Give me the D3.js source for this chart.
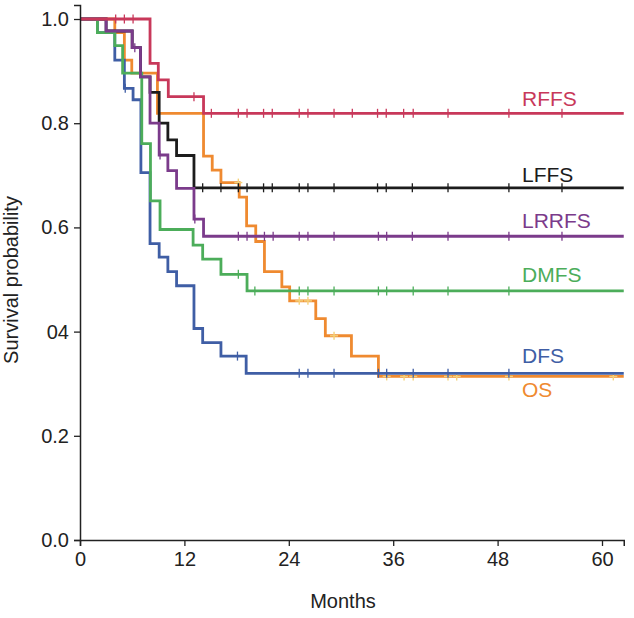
<!DOCTYPE html>
<html>
<head>
<meta charset="utf-8">
<script src="https://cdn.jsdelivr.net/npm/d3@7"></script>
<style>
  html, body { margin: 0; padding: 0; background: #fff; }
  svg text { font-family: "Liberation Sans", Arial, sans-serif; }
</style>
</head>
<body>
<svg id="chart" width="634" height="618"></svg>
<script>
// ---- tick labels ----
const monthTicks = [0, 12, 24, 36, 48, 60];
const survTicks = [0, 0.2, 0.4, 0.6, 0.8, 1.0];
const survTickLabels = ["0.0", "0.2", "04", "0.6", "0.8", "1.0"];

// ---- series (step times in months, survival after each step) ----
// drawing order (bottom to top)
const seriesNames = ["OS", "LFFS", "DFS", "DMFS", "LRRFS", "RFFS"];

const osTimes = [0, 4.0, 5.1, 5.95, 8.9, 14.2, 15.2, 16.2, 18.3, 19.15, 20.2, 21.2, 23.2, 24.1, 27.1, 28.2, 31.2, 34.3];
const osSurv  = [1, 0.974, 0.921, 0.896, 0.819, 0.737, 0.71, 0.686, 0.658, 0.603, 0.573, 0.515, 0.486, 0.459, 0.425, 0.392, 0.353, 0.314];
const osCensor = [18.2, 25.2, 26.2, 29.2, 35.25, 37.25, 38.3, 42.3, 43.3, 49.3, 61.3];

const dmfsTimes = [0, 2.0, 4.0, 4.9, 7.1, 8.1, 9.2, 13.0, 14.1, 16.2, 19.2];
const dmfsSurv  = [1, 0.974, 0.949, 0.896, 0.761, 0.651, 0.596, 0.566, 0.539, 0.51, 0.478];
const dmfsCensor = [18.2, 20.1, 25.2, 26.2, 29.2, 34.3, 35.25, 38.3, 42.3, 49.3];

const dfsTimes = [0, 2.0, 4.0, 5.1, 6.1, 7.0, 8.05, 9.1, 10.1, 11.1, 13.1, 14.1, 16.2, 19.1];
const dfsSurv  = [1, 0.974, 0.921, 0.867, 0.845, 0.705, 0.569, 0.543, 0.515, 0.488, 0.406, 0.379, 0.353, 0.32];
const dfsCensor = [5.2, 18.1, 25.2, 26.2, 29.2, 34.3, 35.25, 38.3, 42.3, 49.3];

const lrrfsTimes = [0, 3.0, 6.0, 6.95, 8.05, 9.1, 10.1, 11.1, 13.1, 14.2];
const lrrfsSurv  = [1, 0.977, 0.945, 0.889, 0.80, 0.739, 0.709, 0.675, 0.616, 0.583];
const lrrfsCensor = [6.3, 9.2, 13.2, 18.2, 19.2, 21.2, 22.2, 25.2, 26.2, 29.2, 34.3, 35.25, 38.2, 42.3, 49.3, 55.4];

const lffsTimes = [0, 3.0, 6.0, 6.95, 8.05, 9.1, 10.1, 11.1, 13.1];
const lffsSurv  = [1, 0.977, 0.945, 0.889, 0.859, 0.80, 0.768, 0.738, 0.676];
const lffsCensor = [14.1, 16.2, 18.2, 19.2, 21.1, 22.1, 25.2, 26.2, 29.2, 34.2, 35.2, 38.2, 42.3, 49.3, 55.4];

const rffsTimes = [0, 8.05, 9.0, 10.15, 14.2];
const rffsSurv  = [1, 0.915, 0.883, 0.851, 0.819];
const rffsCensor = [4.1, 5.1, 6.1, 13.1, 15.1, 18.2, 19.2, 21.1, 22.1, 25.2, 26.2, 29.2, 31.3, 34.2, 35.2, 37.2, 38.3, 42.3, 49.3, 55.4];

const endMonth = 62.5;

// ---- styling ----
const colors = {
  OS: "#ef8a30", DMFS: "#4cad5a", DFS: "#3f5ea5",
  LRRFS: "#7b3b8b", LFFS: "#1c1c1c", RFFS: "#c8385a"
};
const labelPos = {
  RFFS: 106, LFFS: 181.7, LRRFS: 228.3, DMFS: 281.7, DFS: 363.3, OS: 397
};

const data = {
  OS: {t: osTimes, s: osSurv, c: osCensor},
  DMFS: {t: dmfsTimes, s: dmfsSurv, c: dmfsCensor},
  DFS: {t: dfsTimes, s: dfsSurv, c: dfsCensor},
  LRRFS: {t: lrrfsTimes, s: lrrfsSurv, c: lrrfsCensor},
  LFFS: {t: lffsTimes, s: lffsSurv, c: lffsCensor},
  RFFS: {t: rffsTimes, s: rffsSurv, c: rffsCensor}
};

const svg = d3.select("#chart");
const x = d3.scaleLinear().domain([0, endMonth]).range([80, 623.75]);
const y = d3.scaleLinear().domain([0, 1.0269]).range([540, 5]);

function survAt(d, m) {
  let v = d.s[0];
  for (let i = 0; i < d.t.length; i++) { if (d.t[i] <= m) v = d.s[i]; }
  return v;
}

const line = d3.line().x(p => x(p[0])).y(p => y(p[1])).curve(d3.curveStepAfter);

seriesNames.forEach(name => {
  const d = data[name];
  const pts = d.t.map((t, i) => [t, d.s[i]]);
  pts.push([endMonth, d.s[d.s.length - 1]]);
  svg.append("path")
    .attr("d", line(pts))
    .attr("fill", "none")
    .attr("stroke", colors[name])
    .attr("stroke-width", 2.8);

  const g = svg.append("g");
  d.c.forEach(m => {
    const cx = x(m), cy = y(survAt(d, m));
    if (name === "OS") {
      g.append("line").attr("x1", cx).attr("x2", cx).attr("y1", cy - 4).attr("y2", cy + 4)
        .attr("stroke", "#f5d27a").attr("stroke-width", 1.4);
      g.append("line").attr("x1", cx - 4).attr("x2", cx + 4).attr("y1", cy).attr("y2", cy)
        .attr("stroke", "#f5d27a").attr("stroke-width", 1.4);
    } else {
      g.append("line").attr("x1", cx).attr("x2", cx).attr("y1", cy - 4.5).attr("y2", cy + 4.5)
        .attr("stroke", colors[name]).attr("stroke-width", 1.3);
    }
  });

  svg.append("text")
    .attr("x", 522).attr("y", labelPos[name])
    .attr("fill", colors[name])
    .attr("font-size", 21)
    .text(name);
});

// ---- axes ----
const xAxis = d3.axisBottom(x).tickValues(monthTicks).tickSizeOuter(0).tickSize(6).tickPadding(6);
const yAxis = d3.axisLeft(y).tickValues(survTicks).tickSizeOuter(0).tickSize(6).tickPadding(5)
  .tickFormat((v, i) => survTickLabels[i]);

const gx = svg.append("g").attr("transform", "translate(0,540)").call(xAxis);
const gy = svg.append("g").attr("transform", "translate(80,0)").call(yAxis);
[gx, gy].forEach(g => {
  g.select(".domain").attr("stroke", "#222").attr("stroke-width", 1.5);
  g.selectAll(".tick line").attr("stroke", "#222").attr("stroke-width", 1.3);
  g.selectAll(".tick text").attr("fill", "#222").attr("font-size", 20)
    .attr("font-family", "'Liberation Sans', Arial, sans-serif");
});

svg.append("text")
  .attr("x", 343).attr("y", 608)
  .attr("text-anchor", "middle")
  .attr("font-size", 20).attr("fill", "#222")
  .text("Months");

svg.append("text")
  .attr("transform", "translate(18,280) rotate(-90)")
  .attr("text-anchor", "middle")
  .attr("font-size", 20).attr("fill", "#222")
  .text("Survival probability");
</script>
</body>
</html>
